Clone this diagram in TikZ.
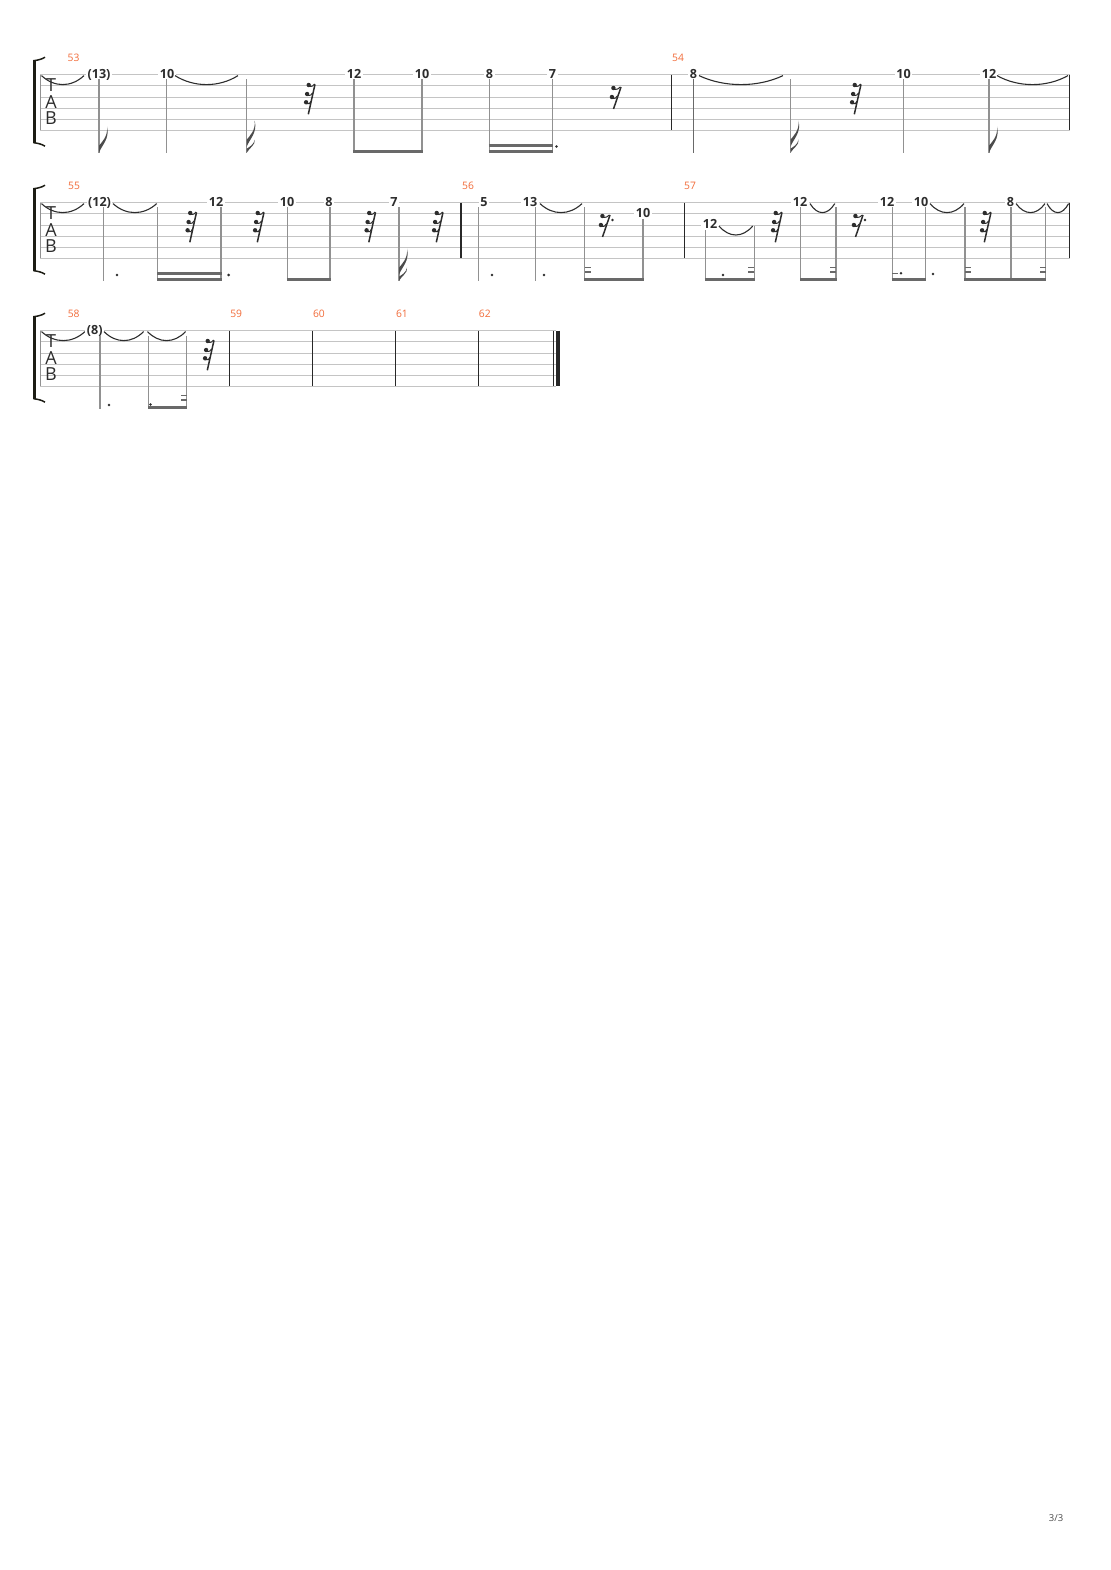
\documentclass[tikz,border=0pt]{standalone}
\usepackage{fontspec}
\usepackage{tikz}
\newfontfamily\tabfont{Open Sans}
\definecolor{staffgray}{RGB}{196,196,196}
\definecolor{stemgray}{RGB}{145,145,145}
\definecolor{beamgray}{RGB}{105,105,105}
\definecolor{bargray}{RGB}{40,40,40}
\definecolor{fretgray}{RGB}{45,45,45}
\definecolor{barnum}{RGB}{242,108,58}
\definecolor{bracketcol}{RGB}{28,28,20}

\tikzset{
  staffline/.style={staffgray, line width=0.9pt},
  stemline/.style={stemgray, line width=1.3pt},
  beamline/.style={beamgray, line width=2.8pt},
  barline/.style={bargray, line width=1.3pt},
  tieline/.style={fretgray, line width=1.1pt},
  fret/.style={font=\tabfont\bfseries\fontsize{12.6}{12.6}\selectfont, text=fretgray, fill=white,
    inner xsep=1.5pt, inner ysep=0.5pt, text height=9pt, text depth=0pt},
  measure/.style={font=\tabfont\fontsize{10.3}{10.3}\selectfont, text=barnum, inner sep=0pt},
  tabletter/.style={font=\tabfont\fontsize{18}{18}\selectfont, text=fretgray, inner sep=0pt,
    text height=12.9pt, text depth=0pt},
}

% note parts: x, top, bottom
\newcommand{\tabstem}[3]{\draw[stemline] (#1,#2) -- (#1,#3);}
\newcommand{\tabbeam}[3]{\draw[beamline] (#1-0.65,#3-1.4) -- (#2+0.65,#3-1.4);}
\newcommand{\tabbeamtwo}[3]{\tabbeam{#1}{#2}{#3}\draw[beamline] (#1-0.65,#3-7.5) -- (#2+0.65,#3-7.5);}
\newcommand{\tabstubs}[3]{\draw[beamgray, line width=1.6pt] (#1,#3-8.5) -- ++({#2*6},0) (#1,#3-13.2) -- ++({#2*6},0);}
\newcommand{\tabdot}[2]{\fill[fretgray] (#1,#2) circle (1.4);}
\newcommand{\tabtie}[3]{\draw[tieline] (#1,#3) .. controls ({#1+0.3*(#2-#1)},#3+12) and ({#1+0.7*(#2-#1)},#3+12) .. (#2,#3);}
\newcommand{\flagone}[2]{\fill[fretgray!85] (#1,#2) .. controls (#1+3,#2-8) and (#1+11,#2-14) .. (#1+8,#2-26)
  .. controls (#1+9,#2-16) and (#1+3,#2-11) .. (#1,#2-7) -- cycle;}
\newcommand{\flagtwo}[2]{\fill[fretgray!85] (#1,#2) .. controls (#1+3,#2-5) and (#1+9,#2-8) .. (#1+8,#2-13)
  .. controls (#1+7,#2-8) and (#1+3,#2-6) .. (#1,#2-4) -- cycle;
  \flagone{#1}{#2-6}}
% rests: x, staff top
\newcommand{\restthirtytwo}[2]{%
  \draw[fretgray, line width=1.5pt] (#1+5,#2+9.6) -- (#1-1.7,#2+39.6);
  \foreach \ry/\rx in {10.3/-0.7, 19.3/-2.3, 27.6/-3.3} {
    \fill[fretgray] (#1+\rx-0.6,#2+\ry) circle (2.2);
    \draw[fretgray, line width=1pt] (#1+\rx,#2+\ry+1.3) .. controls (#1+\rx+3,#2+\ry+1.6) .. ({#1+5-6.7*(\ry-8.6)/30},#2+\ry-1);
  }}
\newcommand{\restsixteen}[2]{%
  \draw[fretgray, line width=1.5pt] (#1+6,#2+12.3) -- (#1-1.5,#2+34.3);
  \foreach \ry/\rx in {13.3/-1, 22.3/-2.5} {
    \fill[fretgray] (#1+\rx-0.6,#2+\ry) circle (2.2);
    \draw[fretgray, line width=1pt] (#1+\rx,#2+\ry+1.3) .. controls (#1+\rx+3,#2+\ry+1.6) .. ({#1+6-7.5*(\ry-11.3)/22},#2+\ry-1);
  }}

\begin{document}
\begin{tikzpicture}[x=1pt, y=-1pt]
\useasboundingbox[fill=white] (0,0) rectangle (1110,1570);

% staves
\foreach \t/\xe in {74.7/1070, 202.7/1070, 330.7/556} {
  \foreach \k in {0,...,5}
    \draw[staffline] (40,\t+\k*11.14) -- (\xe,\t+\k*11.14);
  \draw[stemgray, line width=0.8pt] (40.5,\t) -- (40.5,\t+55.7);
  \draw[bracketcol, line width=3pt] (34.5,\t-14.5) -- (34.5,\t+68.5);
  \draw[bracketcol, line width=1.5pt] (33.5,\t-14) .. controls (38,\t-14.5) and (42,\t-15.5) .. (45,\t-17.5);
  \draw[bracketcol, line width=1.5pt] (33.5,\t+68) .. controls (38,\t+68.5) and (42,\t+69.5) .. (45,\t+71.5);
  \node[tabletter] at (51,\t+10) {T};
  \node[tabletter] at (51,\t+27) {A};
  \node[tabletter] at (51,\t+43) {B};
}

% measure 53
\node[measure] (m53) at (73.5,58) {53};
\tabtie{41.5}{84}{75.6}
\node[fret] (f1) at (99,73.7) {(13)};
\tabstem{99}{79.5}{152.7} \flagone{99}{152.7}
\node[fret] (f2) at (167,73.7) {10};
\tabstem{166.5}{79.5}{152.7}
\tabtie{175}{238}{75.6}
\tabstem{246.7}{79.5}{152.7} \flagtwo{246.7}{152.7}
\restthirtytwo{310}{74.7}
\node[fret] (f3) at (354,73.7) {12};
\node[fret] (f4) at (422,73.7) {10};
\tabstem{354}{79.5}{152.7} \tabstem{422}{79.5}{152.7}
\tabbeam{354}{422}{152.7}
\node[fret] (f5) at (489.5,73.7) {8};
\node[fret] (f6) at (552.5,73.7) {7};
\tabstem{489.5}{79.5}{152.7} \tabstem{552.5}{79.5}{152.7}
\tabbeamtwo{489.5}{552.5}{152.7} \tabdot{556.5}{146.5}
\restsixteen{615}{74.7}
\draw[barline] (671.5,74.7) -- (671.5,130.4);

% measure 54
\node[measure] (m54) at (678,58) {54};
\node[fret] (f7) at (693.5,73.7) {8};
\draw[stemline, beamgray] (693.5,79.5) -- (693.5,152.7);
\tabtie{699}{783}{75.6}
\tabstem{790.5}{79.5}{152.7} \flagtwo{790.5}{152.7}
\restthirtytwo{856}{74.7}
\node[fret] (f8) at (903.5,73.7) {10};
\tabstem{903.5}{79.5}{152.7}
\node[fret] (f9) at (989,73.7) {12};
\tabstem{989}{79.5}{152.7} \flagone{989}{152.7}
\tabtie{997}{1068}{75.6}
\draw[barline] (1069.5,74.7) -- (1069.5,130.4);

% measure 55
\node[measure] (m55) at (74,186) {55};
\tabtie{41.5}{84}{203.6}
\node[fret] (f10) at (99.5,201.7) {(12)};
\tabstem{103.6}{207.5}{280.7} \tabdot{117}{275}
\tabtie{113}{156.7}{203.6}
\tabstem{157.7}{207.5}{280.7}
\restthirtytwo{191.5}{202.7}
\node[fret] (f11) at (216,201.7) {12};
\tabstem{220.9}{207.5}{280.7}
\tabbeamtwo{157.7}{220.9}{280.7} \tabdot{228.6}{275}
\restthirtytwo{259}{202.7}
\node[fret] (f12) at (287,201.7) {10};
\node[fret] (f13) at (329,201.7) {8};
\tabstem{287.4}{207.5}{280.7} \tabstem{330}{207.5}{280.7}
\tabbeam{287.4}{330}{280.7}
\restthirtytwo{370.5}{202.7}
\node[fret] (f14) at (394,201.7) {7};
\tabstem{399}{207.5}{280.7} \flagtwo{399}{280.7}
\restthirtytwo{438}{202.7}
\draw[barline] (461,202.7) -- (461,258.4);

% measure 56
\node[measure] (m56) at (468,186) {56};
\node[fret] (f15) at (484,201.7) {5};
\tabstem{478.6}{207.5}{280.7} \tabdot{492}{275}
\node[fret] (f16) at (530,201.7) {13};
\tabstem{535.7}{207.5}{280.7} \tabdot{544}{275}
\tabtie{540}{582}{203.6}
\tabstem{584.5}{207.5}{280.7}
\restsixteen{604}{202.7} \tabdot{612.5}{220}
\node[fret] (f17) at (643,212.8) {10};
\tabstem{643}{219}{280.7}
\tabbeam{584.5}{643}{280.7} \tabstubs{584.5}{1}{280.7}
\draw[barline] (684.5,202.7) -- (684.5,258.4);

% measure 57
\node[measure] (m57) at (690,186) {57};
\node[fret] (f18) at (710,224) {12};
\tabstem{705.4}{230}{280.7} \tabdot{723}{275}
\tabtie{719}{752.7}{226}
\tabstem{754.4}{226}{280.7}
\tabbeam{705.4}{754.4}{280.7} \tabstubs{754.4}{-1}{280.7}
\restthirtytwo{777}{202.7}
\node[fret] (f19) at (800,201.7) {12};
\tabstem{800.7}{207.5}{280.7}
\tabtie{810}{834.8}{203.6}
\tabstem{836}{207.5}{280.7}
\tabbeam{800.7}{836}{280.7} \tabstubs{836}{-1}{280.7}
\restsixteen{857}{202.7} \tabdot{865}{220}
\node[fret] (f20) at (887,201.7) {12};
\tabstem{892.3}{207.5}{280.7}
\draw[beamgray, line width=1.6pt] (892.3,273.3) -- ++(6,0); \tabdot{901}{273.3}
\node[fret] (f21) at (921,201.7) {10};
\tabstem{925.5}{207.5}{280.7} \tabdot{933}{274}
\tabbeam{892.3}{925.5}{280.7}
\tabtie{930}{964}{203.6}
\tabstem{965}{207.5}{280.7}
\restthirtytwo{986}{202.7}
\node[fret] (f22) at (1010.5,201.7) {8};
\tabstem{1011}{207.5}{280.7}
\tabtie{1016}{1045}{203.6}
\tabstem{1045.6}{207.5}{280.7}
\tabbeam{965}{1045.6}{280.7} \tabstubs{965}{1}{280.7} \tabstubs{1045.6}{-1}{280.7}
\tabtie{1047}{1068.6}{203.6}
\draw[barline] (1069.5,202.7) -- (1069.5,258.4);

% measure 58
\node[measure] (m58) at (73.7,314) {58};
\tabtie{41.5}{85}{331.6}
\node[fret] (f23) at (94.7,329.7) {(8)};
\tabstem{100}{335.5}{408.7} \tabdot{109}{405}
\tabtie{104}{143.6}{331.6}
\tabstem{148.8}{335.5}{408.7} \tabdot{150.5}{404.5}
\tabtie{147.5}{185.6}{331.6}
\tabstem{186.7}{335.5}{408.7}
\tabbeam{148.8}{186.7}{408.7} \tabstubs{186.7}{-1}{408.7}
\restthirtytwo{209}{330.7}

% measures 59 - 62 (empty)
\foreach \bx/\num in {229.7/59, 312.4/60, 395.4/61, 478.3/62} {
  \draw[barline] (\bx,330.7) -- (\bx,386.4);
  \node[measure] (m\num) at (\bx+6.5,314) {\num};
}
\draw[barline] (553.4,330.7) -- (553.4,386.4);
\draw[bargray, line width=3.6pt] (558.2,330.7) -- (558.2,386.4);

% page number
\node[font=\tabfont\fontsize{9.5}{9.5}\selectfont, text=black!70] (pg) at (1056,1518) {3/3};
\end{tikzpicture}
\end{document}
